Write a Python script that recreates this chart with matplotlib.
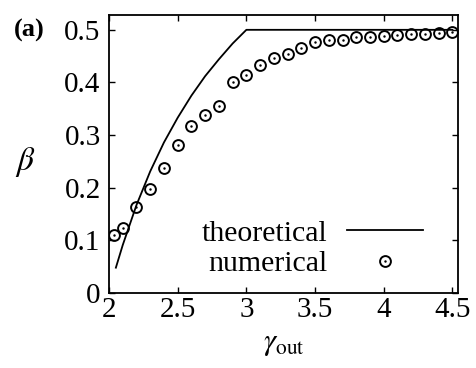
import numpy as np
import matplotlib
matplotlib.use("Agg")
import matplotlib.pyplot as plt
from matplotlib.legend_handler import HandlerTuple

plt.rcParams['font.family'] = ['Liberation Serif', 'DejaVu Serif']
plt.rcParams['mathtext.fontset'] = 'stix'

# theoretical curve
theo_x = [2.05, 2.1, 2.2, 2.3, 2.4, 2.5, 2.6, 2.7, 2.8, 2.9, 3.0, 4.5]
theo_y = [0.048, 0.091, 0.167, 0.231, 0.286, 0.333, 0.375, 0.412, 0.444, 0.474, 0.5, 0.5]

# numerical points
num_x = [2.04, 2.1, 2.2, 2.3, 2.4, 2.5, 2.6, 2.7, 2.8, 2.9, 3.0, 3.1, 3.2,
         3.3, 3.4, 3.5, 3.6, 3.7, 3.8, 3.9, 4.0, 4.1, 4.2, 4.3, 4.4, 4.5]
num_y = [0.110, 0.124, 0.163, 0.197, 0.238, 0.281, 0.317, 0.338, 0.356, 0.400,
         0.414, 0.433, 0.447, 0.455, 0.466, 0.477, 0.481, 0.481, 0.487, 0.487,
         0.489, 0.490, 0.493, 0.493, 0.494, 0.495]

xticks = [2, 2.5, 3, 3.5, 4, 4.5]
xticklabels = ['2', '2.5', '3', '3.5', '4', '4.5']
yticks = [0, 0.1, 0.2, 0.3, 0.4, 0.5]
yticklabels = ['0', '0.1', '0.2', '0.3', '0.4', '0.5']

fig = plt.figure(figsize=(4.76, 3.68), dpi=100)
ax = fig.add_axes([0.229, 0.204, 0.733, 0.755])

line, = ax.plot(theo_x, theo_y, color='black', lw=1.3)
circ, = ax.plot(num_x, num_y, ls='none', marker='o', ms=7.8, mfc='none',
                mec='black', mew=1.4)
dot, = ax.plot(num_x, num_y, ls='none', marker='.', ms=1.5, color='black')

ax.set_xlim(2, 4.54)
ax.set_ylim(0, 0.528)
ax.set_xticks(xticks)
ax.set_xticklabels(xticklabels)
ax.set_yticks(yticks)
ax.set_yticklabels(yticklabels)
ax.tick_params(direction='in', top=True, right=True, labelsize=21, length=4,
               width=1)
ax.tick_params(axis='y', pad=6)
ax.tick_params(axis='x', pad=3)
for s in ax.spines.values():
    s.set_linewidth(1.3)

ax.set_xlabel(r'$\gamma_{\mathrm{out}}$', fontsize=22, labelpad=4)
fig.text(0.052, 0.56, r'$\beta$', fontsize=24, ha='center', va='center')
fig.text(0.03, 0.918, '(a)', fontsize=19, fontweight='bold', ha='left', va='center')

ax.legend([line, (circ, dot)], ['theoretical', 'numerical'],
          handler_map={tuple: HandlerTuple(ndivide=1, pad=0)},
          loc='lower right', bbox_to_anchor=(0.977, -0.04), markerfirst=False,
          frameon=False, fontsize=21.5, handlelength=2.55, handletextpad=0.65,
          labelspacing=0.12)

fig.savefig('out.png', dpi=100)
